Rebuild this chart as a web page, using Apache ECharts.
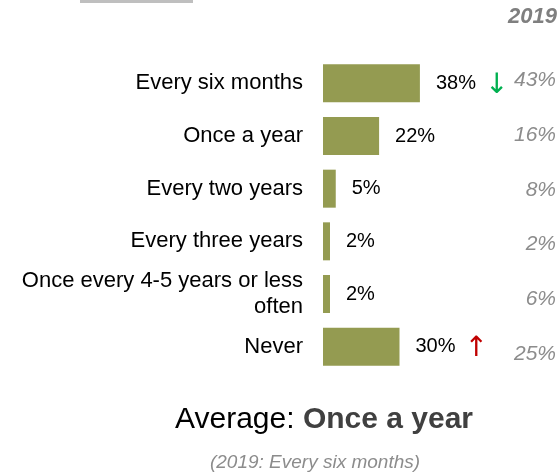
<!DOCTYPE html>
<html>
<head>
<meta charset="utf-8">
<script src="https://cdn.jsdelivr.net/npm/echarts@6/dist/echarts.min.js"></script>
<style>
  html, body { margin: 0; padding: 0; background: #fff; }
  #chart { width: 559px; height: 476px; }
</style>
</head>
<body>
<div id="chart"></div>
<script>
var categories = [
  'Every six months',
  'Once a year',
  'Every two years',
  'Every three years',
  'Once every 4-5 years or less\noften',
  'Never'
];
var values2023 = [38, 22, 5, 2, 2, 30];
var values2019 = [43, 16, 8, 2, 6, 25];
// significant change vs 2019
var changes = ['down', '', '', '', '', 'up'];

var font = 'Liberation Sans, Arial, sans-serif';

function drawChart() {
  var myChart = echarts.init(document.getElementById('chart'));
  var option = {
    animation: false,
    textStyle: { fontFamily: font },
    grid: [
      { left: 323, top: 57, width: 102, height: 316 },
      // column with 2019 values, right aligned at x=556
      { left: 556, top: 53, width: 1, height: 328 }
    ],
    xAxis: [
      { type: 'value', min: 0, max: 40, show: false, gridIndex: 0 },
      { type: 'value', min: 0, max: 1, show: false, gridIndex: 1 }
    ],
    yAxis: [
      {
        type: 'category',
        gridIndex: 0,
        inverse: true,
        data: categories,
        axisLine: { show: false },
        axisTick: { show: false },
        axisLabel: {
          margin: 20,
          fontSize: 22,
          color: '#000',
          lineHeight: 26,
          align: 'right'
        }
      },
      {
        type: 'category',
        gridIndex: 1,
        inverse: true,
        data: values2019.map(function (v) { return v + '%'; }),
        axisLine: { show: false },
        axisTick: { show: false },
        axisLabel: {
          margin: 0,
          fontSize: 21,
          fontStyle: 'italic',
          color: '#8c8c8c',
          align: 'right'
        }
      }
    ],
    series: [{
      type: 'bar',
      xAxisIndex: 0,
      yAxisIndex: 0,
      data: values2023,
      barWidth: 38,
      barMinHeight: 7,
      itemStyle: { color: '#949b51' },
      label: {
        show: true,
        position: 'right',
        distance: 16,
        formatter: function (p) {
          var s = '{v|' + p.value + '%}';
          if (changes[p.dataIndex] === 'down') s += '{dn|↓}';
          if (changes[p.dataIndex] === 'up') s += '{up|↑}';
          return s;
        },
        rich: {
          v: { fontSize: 20, color: '#000', fontFamily: font },
          dn: { fontSize: 28, color: '#00b050', padding: [4, 0, 0, 9], fontFamily: 'DejaVu Sans' },
          up: { fontSize: 28, color: '#c00000', padding: [4, 0, 0, 9], fontFamily: 'DejaVu Sans' }
        }
      }
    }],
    graphic: [
      { type: 'rect', shape: { x: 80, y: 0, width: 113, height: 3 }, style: { fill: '#bfbfbf' } },
      {
        type: 'text', right: 2, top: 6,
        style: { text: '2019', fill: '#7f7f7f', font: 'italic bold 22px ' + font }
      },
      {
        type: 'text', x: 324, y: 420,
        style: {
          text: '{a|Average: }{b|Once a year}',
          align: 'center', verticalAlign: 'middle',
          rich: {
            a: { fontSize: 30, fill: '#000', fontFamily: font },
            b: { fontSize: 30, fontWeight: 'bold', fill: '#404040', fontFamily: font }
          }
        }
      },
      {
        type: 'text', x: 315, y: 463,
        style: {
          text: '(2019: Every six months)',
          align: 'center', verticalAlign: 'middle',
          font: 'italic 19px ' + font, fill: '#8c8c8c'
        }
      }
    ]
  };
  myChart.setOption(option);
}
drawChart();
</script>
</body>
</html>
